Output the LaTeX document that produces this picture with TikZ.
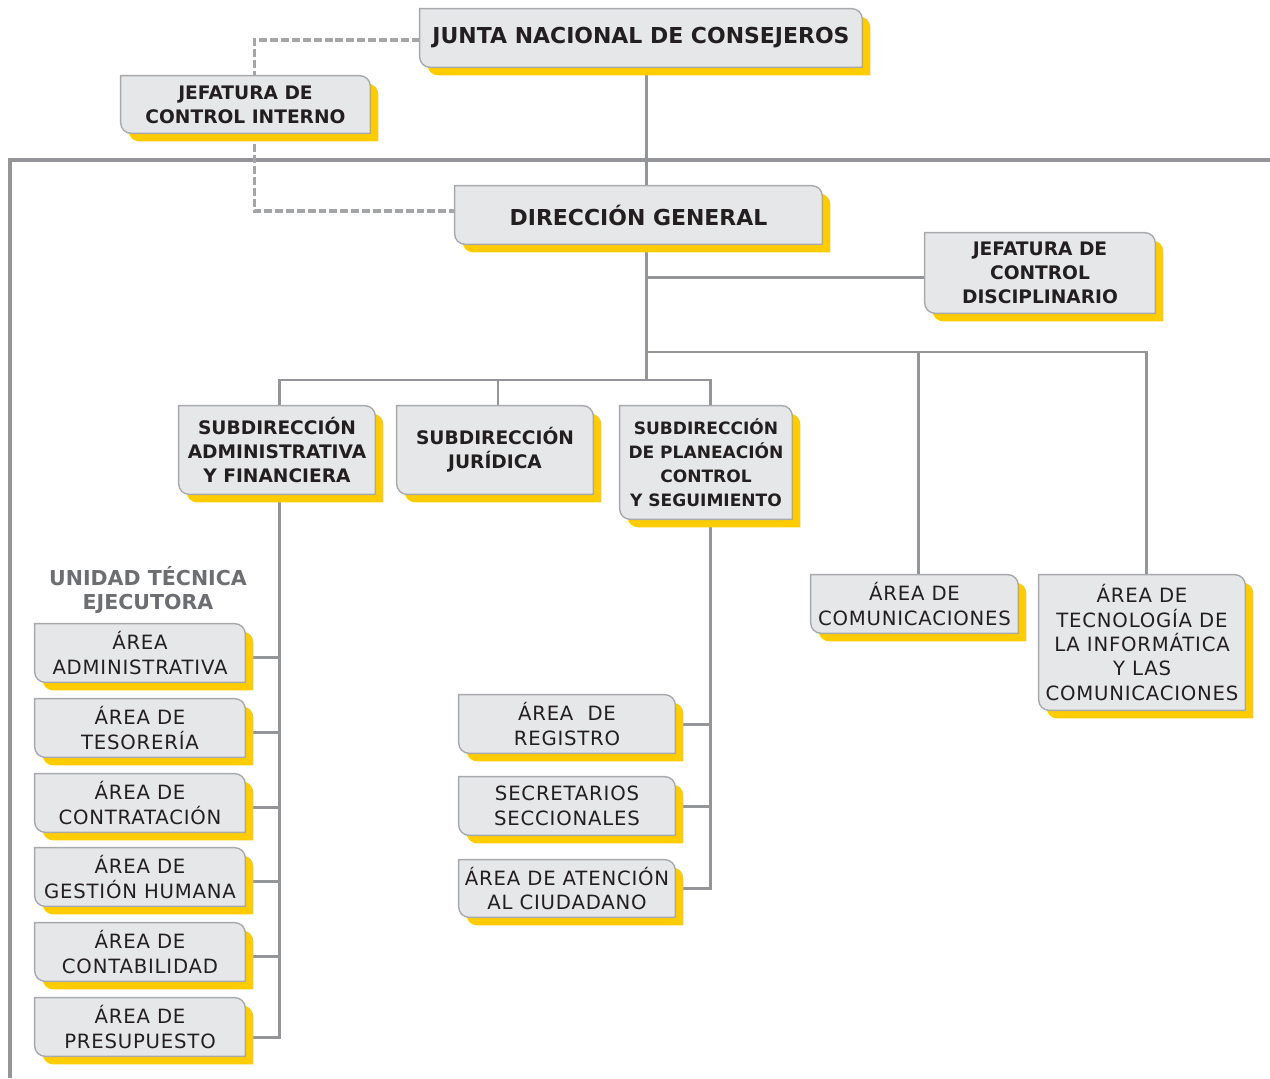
\documentclass[tikz,border=0pt]{standalone}
\usepackage{fontspec}
\setmainfont{DejaVu Sans}
\newfontfamily\widesans[LetterSpace=4]{DejaVu Sans}
\usepackage{tikz}
\usetikzlibrary{calc}
\definecolor{boxgray}{HTML}{E6E7E8}
\definecolor{boxline}{HTML}{A7A9AC}
\definecolor{linkgray}{HTML}{939598}
\definecolor{shadowyellow}{HTML}{FFCC00}
\definecolor{inkdark}{HTML}{231F20}
\definecolor{labelgray}{HTML}{6D6E71}
\pgfdeclarelayer{links}
\pgfdeclarelayer{boxes}
\pgfsetlayers{links,boxes,main}
\tikzset{
  sz/.style 2 args={minimum width=#1*0.02cm, minimum height=#2*0.02cm},
  unit/.style={inner sep=0pt, align=center, text=inkdark},
  bigbold/.style={unit, font=\fontsize{12.5}{14}\selectfont\bfseries},
  midbold/.style={unit, font=\fontsize{10.6}{13.6}\selectfont\bfseries},
  plain/.style={unit, font=\widesans\fontsize{11.2}{13.9}\selectfont},
  link/.style={draw=linkgray, line width=1.7pt},
  dotlink/.style={draw=linkgray!85, line width=2.2pt, dash pattern=on 4.5pt off 1.7pt}
}
% leaf shaped box with yellow shadow behind a node
\newcommand\leafbox[1]{%
  \begin{pgfonlayer}{boxes}
    \fill[shadowyellow] ([shift={(8,8)}]#1.north west) [rounded corners=6pt] -- ([shift={(8,8)}]#1.north east) [sharp corners] -- ([shift={(8,8)}]#1.south east) [rounded corners=6pt] -- ([shift={(8,8)}]#1.south west) [sharp corners] -- cycle;
    \filldraw[fill=boxgray, draw=boxline, line width=0.8pt] (#1.north west) [rounded corners=6pt] -- (#1.north east) [sharp corners] -- (#1.south east) [rounded corners=6pt] -- (#1.south west) [sharp corners] -- cycle;
  \end{pgfonlayer}}
\begin{document}
\begin{tikzpicture}[x=0.02cm, y=-0.02cm]
\useasboundingbox (0,0) rectangle (1270,1078);

% top levels
\node[bigbold, sz={442}{58}] (junta) at (641,38) {JUNTA NACIONAL DE CONSEJEROS};
\node[midbold, sz={249}{57}] (jci) at (245.5,104.5) {JEFATURA DE\\CONTROL INTERNO};
\node[bigbold, sz={367}{58}] (dg) at (638.5,215) {DIRECCIÓN GENERAL};
\node[midbold, sz={230}{80}] (jcd) at (1040,273) {JEFATURA DE\\CONTROL\\DISCIPLINARIO};

% subdirecciones
\node[midbold, sz={196}{88}] (sa) at (277,450) {SUBDIRECCIÓN\\ADMINISTRATIVA\\Y FINANCIERA};
\node[midbold, sz={196}{88}] (sj) at (495,450) {SUBDIRECCIÓN\\JURÍDICA};
\node[midbold, sz={172}{113}, font=\fontsize{9.7}{13.7}\selectfont\bfseries] (sp) at (706,462.5) {SUBDIRECCIÓN\\DE PLANEACIÓN\\CONTROL\\Y SEGUIMIENTO};

% areas
\node[plain, sz={207}{58}] (com) at (914.5,604) {ÁREA DE\\COMUNICACIONES};
\node[plain, sz={206}{135}] (tic) at (1142,642.5) {ÁREA DE\\TECNOLOGÍA DE\\LA INFORMÁTICA\\Y LAS\\COMUNICACIONES};

\node[unit, text=labelgray, font=\fontsize{11.7}{13.6}\selectfont\bfseries] (ute) at (148,590) {UNIDAD TÉCNICA\\EJECUTORA};
\node[plain, sz={210}{58}] (a1) at (140,653) {ÁREA\\ADMINISTRATIVA};
\node[plain, sz={210}{58}] (a2) at (140,728) {ÁREA DE\\TESORERÍA};
\node[plain, sz={210}{58}] (a3) at (140,803) {ÁREA DE\\CONTRATACIÓN};
\node[plain, sz={210}{58}] (a4) at (140,877) {ÁREA DE\\GESTIÓN HUMANA};
\node[plain, sz={210}{58}] (a5) at (140,952) {ÁREA DE\\CONTABILIDAD};
\node[plain, sz={210}{58}] (a6) at (140,1027) {ÁREA DE\\PRESUPUESTO};

\node[plain, sz={216}{58}] (ar) at (567,724) {ÁREA\ \ DE\\REGISTRO};
\node[plain, sz={216}{58}] (ss) at (567,806) {SECRETARIOS\\SECCIONALES};
\node[plain, sz={216}{57}] (ac) at (567,888.5) {ÁREA DE ATENCIÓN\\AL CIUDADANO};

\foreach \b in {junta,jci,dg,jcd,sa,sj,sp,com,tic,a1,a2,a3,a4,a5,a6,ar,ss,ac}
  \leafbox{\b};

\coordinate (trunk) at (646,380);
\coordinate (bus) at (646,352);
\coordinate (satrunk) at ([xshift=1.7pt]sa.south);
\coordinate (sptrunk) at ([xshift=2.3pt]sp.south);

\begin{pgfonlayer}{links}
  % frame
  \draw[draw=linkgray, line width=2.3pt] (1270,160) -- (10,160) -- (10,1078);
  % control interno
  \draw[dotlink] ([yshift=-1pt]junta.west) -| ($(jci.north)+(9,0)$);
  \draw[dotlink] ($(jci.south)+(9,0)$) |- ([yshift=2.3pt]dg.west);
  \draw[link] (junta.south -| trunk) -- (trunk);
  \draw[link] ([yshift=-2.3pt]jcd.west) -- ([yshift=-2.3pt]jcd.west -| trunk);
  \draw[link] (bus) -| ([xshift=2.5pt]com.north);
  \draw[link] (bus) -| ([xshift=2.3pt]tic.north);
  \draw[link] ([xshift=1.7pt]sa.north) |- (trunk) -| ([xshift=2.3pt]sp.north);
  \draw[link] ([xshift=1.7pt]sj.north) -- ([xshift=1.7pt]sj.north |- trunk);
  % unidad tecnica ejecutora
  \draw[link] (satrunk) |- ([yshift=-6.2pt]a6.east);
  \foreach \n in {a1,a2,a3,a4,a5}
    \draw[link] ([yshift=-2.3pt]\n.east) -- ([yshift=-2.3pt]\n.east -| satrunk);
  % planeacion
  \draw[link] (sptrunk) |- (ac.east);
  \draw[link] (ar.east) -- (ar.east -| sptrunk);
  \draw[link] (ss.east) -- (ss.east -| sptrunk);
\end{pgfonlayer}
\end{tikzpicture}
\end{document}
